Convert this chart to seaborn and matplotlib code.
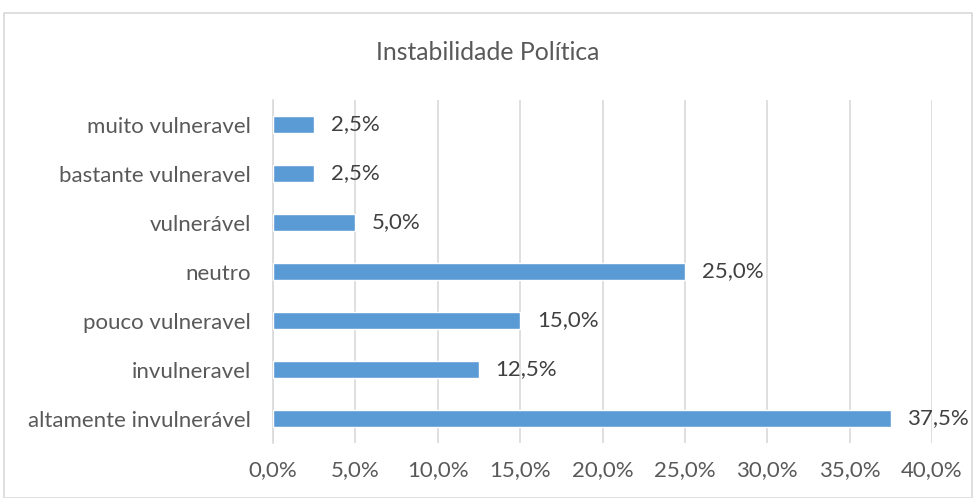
import matplotlib
matplotlib.use("Agg")
import matplotlib.pyplot as plt
import seaborn as sns
import pandas as pd
from matplotlib.patches import Rectangle

categories = ["muito vulneravel", "bastante vulneravel", "vulnerável", "neutro",
              "pouco vulneravel", "invulneravel", "altamente invulnerável"]
values = [2.5, 2.5, 5.0, 25.0, 15.0, 12.5, 37.5]
xticks = [0, 5, 10, 15, 20, 25, 30, 35, 40]
title = "Instabilidade Política"

sns.set_theme(style="white")
plt.rcParams['font.family'] = ['Lato', 'DejaVu Sans']
txt = "#595959"

df = pd.DataFrame({"cat": categories, "val": values})
fig = plt.figure(figsize=(9.76, 4.98), dpi=100)
ax = fig.add_axes([273/976, 1-443/498, (932-273)/976, 343/498])
sns.barplot(data=df, x="val", y="cat", order=categories, color="#5B9BD5",
            width=0.35, saturation=1, ax=ax, zorder=3)
ax.set_xlim(0, 40)
ax.set_ylim(6.5, -0.5)
ax.set_xticks(xticks)
ax.set_xticklabels([f"{t:.1f}%".replace(".", ",") for t in xticks])
ax.grid(axis="x", color="#D9D9D9", linewidth=1.2, zorder=0)
for s in ["top", "right", "bottom"]:
    ax.spines[s].set_visible(False)
ax.spines["left"].set_color("#D9D9D9")
ax.spines["left"].set_linewidth(1.2)
ax.tick_params(axis="both", length=0, labelsize=16, colors=txt)
ax.tick_params(axis="y", pad=16)
ax.tick_params(axis="x", pad=12)
ax.set_xlabel("")
ax.set_ylabel("")
for i, v in enumerate(values):
    ax.annotate(f"{v:.1f}%".replace(".", ","), (v, i), xytext=(12, 0),
                textcoords="offset points", va="center", ha="left",
                fontsize=16, color="#404040")
fig.text(0.5, 1-52/498, title, ha="center", va="center", fontsize=17.8, color=txt)
fig.patches.append(Rectangle((4/976, 0.0), 1-8/976, 1-13/498, transform=fig.transFigure,
                             fill=False, edgecolor="#D9D9D9", linewidth=1.2))
fig.savefig("out.png", dpi=100)
